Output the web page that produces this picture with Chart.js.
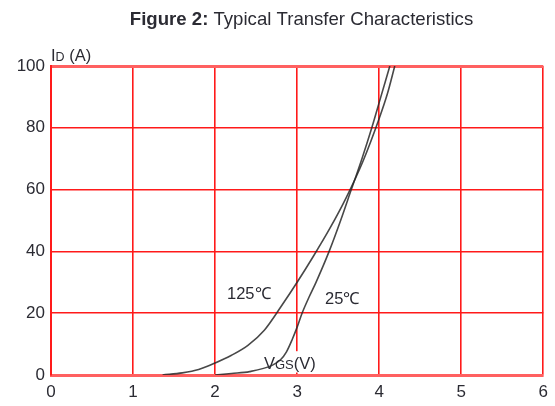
<!DOCTYPE html>
<html>
<head>
<meta charset="utf-8">
<script src="https://cdn.jsdelivr.net/npm/chart.js@4/dist/chart.umd.min.js"></script>
<style>
  html, body { margin: 0; padding: 0; background: #fff; }
  #wrap { width: 555px; height: 406px; position: relative; }
</style>
</head>
<body>
<div id="wrap"><canvas id="c" width="555" height="406"></canvas></div>
<script>
// Gate-source voltage (V) and drain current (A) for each junction temperature
const vgs125 = [1.36, 1.6, 1.8, 2.0, 2.2, 2.4, 2.6,  2.8, 3.0, 3.2,  3.4,  3.6,  3.8, 4.0, 4.1, 4.19];
const id125  = [0,    0.7, 1.8, 3.9, 6.4, 9.6, 14.5, 22,  30,  38.5, 47.5, 57.5, 69,  83,  91,  100];
const vgs25  = [2.0, 2.2, 2.42, 2.7, 2.8, 2.87, 2.94, 3.0,  3.06, 3.15, 3.23, 3.39, 3.53, 3.66, 3.79, 3.91, 4.02, 4.13];
const id25   = [0,   0.5, 1.1,  3.2, 5,   7.5,  11.5, 15.5, 20,   25.5, 30,   40,   50,   60,   70,   80,   90,   100];
const seriesLabels = ['125℃', '25℃'];
const xTicks = [0, 1, 2, 3, 4, 5, 6];
const yTicks = [0, 20, 40, 60, 80, 100];

const toPoints = (xs, ys) => xs.map((x, i) => ({ x: x, y: ys[i] }));

const FONT = '"Liberation Sans", Arial, sans-serif';
const TXT = '#2b2b33';
const GRID = '#ff1a1a';
const EDGE = '#ff6060';

// Title, axis captions and curve labels drawn on the canvas
const annotations = {
  id: 'annotations',
  beforeDatasetsDraw(chart) {
    const ctx = chart.ctx;
    const xs = chart.scales.x, ys = chart.scales.y;
    // white box behind the V_GS caption (hides the grid under it)
    ctx.save();
    ctx.fillStyle = '#fff';
    const top = ys.getPixelForValue(7.7), bot = ys.getPixelForValue(0.8);
    ctx.fillRect(xs.getPixelForValue(2.57), top, 70, bot - top);
    ctx.restore();
  },
  afterDraw(chart) {
    const ctx = chart.ctx;
    ctx.save();
    ctx.fillStyle = TXT;
    ctx.textBaseline = 'alphabetic';

    // title
    ctx.font = 'bold 18.6px ' + FONT;
    const t1 = 'Figure 2:';
    const t2 = ' Typical Transfer Characteristics';
    const w1 = ctx.measureText(t1).width;
    ctx.font = '18.6px ' + FONT;
    const w2 = ctx.measureText(t2).width;
    const x0 = 301.5 - (w1 + w2) / 2;
    ctx.font = 'bold 18.6px ' + FONT;
    ctx.fillText(t1, x0, 25);
    ctx.font = '18.6px ' + FONT;
    ctx.fillText(t2, x0 + w1, 25);

    // mixed-size caption helper: [text, size] pairs
    const caption = (parts, x, y) => {
      parts.forEach(([s, sz]) => {
        ctx.font = sz + 'px ' + FONT;
        ctx.fillText(s, x, y);
        x += ctx.measureText(s).width;
      });
    };
    caption([['I', 16.5], ['D', 12.5], [' (A)', 16.5]], 51, 61);
    caption([['V', 16.5], ['GS', 13], ['(V)', 16.5]], 264, 369);

    // curve labels
    ctx.font = '16.5px ' + FONT;
    ctx.fillText(seriesLabels[0], 227, 299);
    ctx.fillText(seriesLabels[1], 325, 304);
    ctx.restore();
  }
};

new Chart(document.getElementById('c'), {
  type: 'line',
  data: {
    datasets: [
      { label: seriesLabels[0], data: toPoints(vgs125, id125) },
      { label: seriesLabels[1], data: toPoints(vgs25, id25) }
    ].map(d => Object.assign(d, {
      borderColor: 'rgba(40,40,40,0.85)',
      borderWidth: 1.6,
      pointRadius: 0,
      fill: false,
      cubicInterpolationMode: 'monotone'
    }))
  },
  options: {
    responsive: false,
    animation: false,
    layout: { padding: { top: 66, right: 10, left: 0, bottom: 0 } },
    plugins: { legend: { display: false }, tooltip: { enabled: false } },
    scales: {
      x: {
        type: 'linear',
        min: 0, max: 6,
        afterBuildTicks: s => { s.ticks = xTicks.map(v => ({ value: v })); },
        afterFit: s => { s.height = 31; },
        grid: { color: GRID, lineWidth: 1.6, drawTicks: false },
        border: { color: EDGE, width: 3 },
        ticks: { padding: 7, color: TXT, font: { family: FONT, size: 17 } }
      },
      y: {
        min: 0, max: 100,
        afterBuildTicks: s => { s.ticks = yTicks.map(v => ({ value: v })); },
        afterFit: s => { s.width = 51; },
        grid: {
          color: c => (c.tick && c.tick.value === 100 ? EDGE : GRID),
          lineWidth: c => (c.tick && c.tick.value === 100 ? 3 : 1.6),
          drawTicks: false
        },
        border: { color: GRID, width: 2 },
        ticks: { padding: 6, color: TXT, font: { family: FONT, size: 17 } }
      }
    }
  },
  plugins: [annotations]
});
</script>
</body>
</html>
